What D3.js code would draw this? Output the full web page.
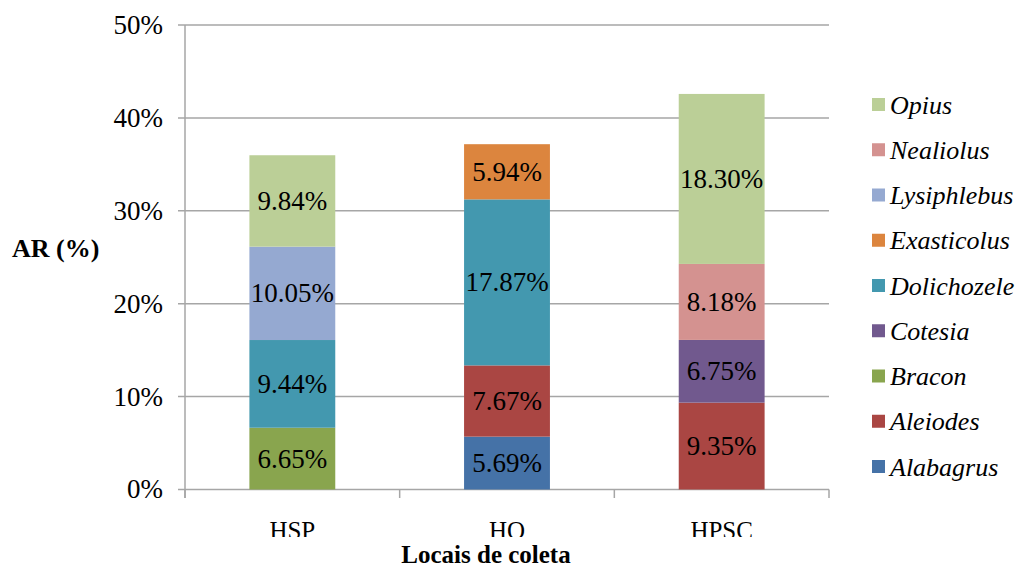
<!DOCTYPE html>
<html>
<head>
<meta charset="utf-8">
<script src="https://cdn.jsdelivr.net/npm/d3@7"></script>
<style>
  body { margin: 0; background: #fff; }
</style>
</head>
<body>
<svg class="chart" width="1022" height="569"></svg>
<script>
const sites = ["HSP", "HO", "HPSC"];
const genera = ["Alabagrus", "Aleiodes", "Bracon", "Cotesia", "Dolichozele",
  "Exasticolus", "Lysiphlebus", "Nealiolus", "Opius"];
const colors = ["#4572a7", "#aa4643", "#89a54e", "#71598e", "#4398af",
  "#dc853e", "#95a9d1", "#d49290", "#bbcf97"];

// values per site, same order as sites
const alabagrus = [0, 5.69, 0];
const aleiodes = [0, 7.67, 9.35];
const bracon = [6.65, 0, 0];
const cotesia = [0, 0, 6.75];
const dolichozele = [9.44, 17.87, 0];
const exasticolus = [0, 5.94, 0];
const lysiphlebus = [10.05, 0, 0];
const nealiolus = [0, 0, 8.18];
const opius = [9.84, 0, 18.30];

const yTicks = [0, 10, 20, 30, 40, 50];

const series = [alabagrus, aleiodes, bracon, cotesia, dolichozele,
  exasticolus, lysiphlebus, nealiolus, opius];

const table = sites.map((s, i) => {
  const row = { site: s };
  genera.forEach((g, j) => { row[g] = series[j][i]; });
  return row;
});

const FONT = "Liberation Serif";

const svg = d3.select("svg.chart");

const x = d3.scaleBand().domain(sites).range([185, 829]).paddingInner(0.6).paddingOuter(0.3);
const y = d3.scaleLinear().domain([0, 50]).range([489.5, 25]);
const color = d3.scaleOrdinal().domain(genera).range(colors);

// gridlines
svg.append("g")
  .selectAll("line")
  .data(yTicks)
  .enter()
  .append("line")
  .attr("x1", 178)
  .attr("x2", 829)
  .attr("y1", d => y(d))
  .attr("y2", d => y(d))
  .attr("stroke", "#a6a6a6")
  .attr("stroke-width", 1.5);

// left axis line
svg.append("line")
  .attr("x1", 185).attr("x2", 185)
  .attr("y1", y(50)).attr("y2", 498)
  .attr("stroke", "#a6a6a6").attr("stroke-width", 1.5);

// category ticks
const bounds = [185].concat(sites.map(s => x(s) + x.bandwidth() / 2 + x.step() / 2));
svg.append("g")
  .selectAll("line")
  .data(bounds)
  .enter()
  .append("line")
  .attr("x1", d => d).attr("x2", d => d)
  .attr("y1", y(0)).attr("y2", 498)
  .attr("stroke", "#a6a6a6").attr("stroke-width", 1.5);

// y tick labels
svg.append("g")
  .selectAll("text")
  .data(yTicks)
  .enter()
  .append("text")
  .attr("x", 163)
  .attr("y", d => y(d))
  .attr("dy", "0.33em")
  .attr("text-anchor", "end")
  .attr("font-family", FONT)
  .attr("font-size", 27)
  .text(d => d + "%");

const stacked = d3.stack().keys(genera)(table);

const layers = svg.append("g")
  .selectAll("g")
  .data(stacked)
  .enter()
  .append("g")
  .attr("fill", d => color(d.key));

layers.selectAll("rect")
  .data(d => d.filter(p => p[1] - p[0] > 0))
  .enter()
  .append("rect")
  .attr("x", d => x(d.data.site))
  .attr("y", d => y(d[1]))
  .attr("width", x.bandwidth())
  .attr("height", d => y(d[0]) - y(d[1]));

// data labels
svg.append("g")
  .selectAll("g")
  .data(stacked)
  .enter()
  .append("g")
  .selectAll("text")
  .data(d => d.filter(p => p[1] - p[0] > 0))
  .enter()
  .append("text")
  .attr("x", d => x(d.data.site) + x.bandwidth() / 2)
  .attr("y", d => y((d[0] + d[1]) / 2))
  .attr("dy", "0.33em")
  .attr("text-anchor", "middle")
  .attr("font-family", FONT)
  .attr("font-size", 27)
  .text(d => (d[1] - d[0]).toFixed(2) + "%");

// x labels (bottom clipped as in original)
svg.append("clipPath")
  .attr("id", "xclip")
  .append("rect")
  .attr("x", 0).attr("y", 500).attr("width", 1022).attr("height", 37);

svg.append("g")
  .attr("clip-path", "url(#xclip)")
  .selectAll("text")
  .data(sites)
  .enter()
  .append("text")
  .attr("x", d => x(d) + x.bandwidth() / 2)
  .attr("y", 539)
  .attr("text-anchor", "middle")
  .attr("font-family", FONT)
  .attr("font-size", 25)
  .text(d => d);

// axis titles
svg.append("text")
  .attr("x", 486)
  .attr("y", 563)
  .attr("text-anchor", "middle")
  .attr("font-family", FONT)
  .attr("font-size", 25)
  .attr("font-weight", "bold")
  .text("Locais de coleta");

svg.append("text")
  .attr("x", 12)
  .attr("y", 257)
  .attr("font-family", FONT)
  .attr("font-size", 26)
  .attr("font-weight", "bold")
  .text("AR (%)");

// legend
const legend = svg.append("g")
  .selectAll("g")
  .data(genera.slice().reverse())
  .enter()
  .append("g")
  .attr("transform", (d, i) => "translate(872," + (105 + i * 45.25) + ")");

legend.append("rect")
  .attr("x", 0).attr("y", -7)
  .attr("width", 13).attr("height", 13)
  .attr("fill", d => color(d));

legend.append("text")
  .attr("x", 18)
  .attr("y", 0)
  .attr("dy", "0.33em")
  .attr("font-family", FONT)
  .attr("font-size", 26)
  .attr("font-style", "italic")
  .text(d => d);
</script>
</body>
</html>
